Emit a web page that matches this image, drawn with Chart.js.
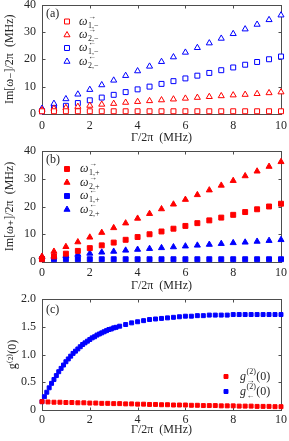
<!DOCTYPE html>
<html>
<head>
<meta charset="utf-8">
<script src="https://cdn.jsdelivr.net/npm/chart.js@4.4.1/dist/chart.umd.min.js"></script>
<style>
  body { margin: 0; background: #fff; width: 289px; height: 441px; overflow: hidden; position: relative; }
  canvas { position: absolute; left: 0; }
</style>
</head>
<body>
<canvas id="chartA" width="289" height="145" style="top:0px"></canvas>
<canvas id="chartB" width="289" height="147" style="top:146px"></canvas>
<canvas id="chartC" width="289" height="145" style="top:292px"></canvas>
<script>
// panels (a) and (b): Gamma/2pi grid
const gammaAB = [0, 0.5, 1, 1.5, 2, 2.5, 3, 3.5, 4, 4.5, 5, 5.5, 6, 6.5, 7, 7.5, 8, 8.5, 9, 9.5, 10];

// panel (a) : Im[w-]/2pi
const w1MinusFwd = [1, 1, 1, 1, 1, 1, 1, 1, 1, 1, 1, 1, 1, 1, 1, 1, 1, 1, 1, 1, 1];
const w2MinusFwd = [1.5, 2.0, 2.3, 2.7, 3.1, 3.5, 3.8, 4.2, 4.5, 4.8, 5.1, 5.4, 5.7, 6.0, 6.3, 6.6, 6.9, 7.1, 7.4, 7.7, 8.0];
const w1MinusBwd = [1, 2, 3, 4, 5, 6, 7, 8, 9, 10, 11, 12, 13, 14, 15, 16, 17, 18, 19, 20, 21];
const w2MinusBwd = [2.0, 3.8, 5.5, 7.2, 8.9, 10.6, 12.3, 14.0, 15.7, 17.4, 19.1, 20.8, 22.5, 24.2, 25.9, 27.6, 29.3, 31.0, 32.7, 34.4, 36.1];

// panel (b) : Im[w+]/2pi
const w1PlusFwd = [1, 2, 3, 4, 5, 6, 7, 8, 9, 10, 11, 12, 13, 14, 15, 16, 17, 18, 19, 20, 21];
const w2PlusFwd = [2.0, 3.8, 5.5, 7.2, 8.9, 10.6, 12.3, 14.0, 15.7, 17.4, 19.1, 20.8, 22.5, 24.2, 25.9, 27.6, 29.3, 31.0, 32.7, 34.4, 36.1];
const w1PlusBwd = [1.1, 1, 1, 1, 1, 1, 1, 1, 1, 1, 1, 1, 1, 1, 1, 1, 1, 1, 1, 1, 1];
const w2PlusBwd = [1.8, 2.0, 2.3, 2.7, 3.1, 3.5, 3.8, 4.2, 4.5, 4.8, 5.1, 5.4, 5.7, 6.0, 6.3, 6.6, 6.9, 7.1, 7.4, 7.7, 8.0];

// panel (c) : g2(0)
const gammaRed = [0, 0.25, 0.5, 0.75, 1, 1.25, 1.5, 1.75, 2, 2.25, 2.5, 2.75, 3, 3.25, 3.5, 3.75, 4, 4.25, 4.5, 4.75, 5,
  5.25, 5.5, 5.75, 6, 6.25, 6.5, 6.75, 7, 7.25, 7.5, 7.75, 8, 8.25, 8.5, 8.75, 9, 9.25, 9.5, 9.75, 10];
const g2Fwd = [0.15, 0.145, 0.14, 0.14, 0.135, 0.135, 0.13, 0.13, 0.125, 0.125, 0.12, 0.12, 0.115, 0.115, 0.11, 0.11, 0.105,
  0.105, 0.10, 0.10, 0.095, 0.095, 0.09, 0.09, 0.09, 0.085, 0.085, 0.08, 0.08, 0.08, 0.075, 0.075, 0.075, 0.07, 0.07,
  0.07, 0.065, 0.065, 0.065, 0.06, 0.06];
const gammaBlue = [0, 0.1, 0.2, 0.3, 0.4, 0.5, 0.6, 0.7, 0.8, 0.9, 1.0, 1.1, 1.2, 1.3, 1.4, 1.5, 1.6, 1.7, 1.8, 1.9, 2.0,
  2.1, 2.2, 2.3, 2.4, 2.5, 2.6, 2.7, 2.8, 2.9, 3.0, 3.1,
  3.25, 3.5, 3.75, 4, 4.25, 4.5, 4.75, 5, 5.25, 5.5, 5.75, 6, 6.25, 6.5, 6.75, 7, 7.25, 7.5, 7.75, 8, 8.25, 8.5, 8.75,
  9, 9.25, 9.5, 9.75, 10];
const g2Bwd = [0.15, 0.24, 0.32, 0.40, 0.48, 0.55, 0.62, 0.69, 0.75, 0.81, 0.87, 0.92, 0.97, 1.02, 1.06, 1.10, 1.14, 1.18,
  1.21, 1.24, 1.27, 1.30, 1.32, 1.35, 1.37, 1.39, 1.41, 1.43, 1.45, 1.46, 1.48, 1.49,
  1.51, 1.54, 1.57, 1.59, 1.61, 1.63, 1.64, 1.65, 1.66, 1.67, 1.68, 1.69, 1.69, 1.70, 1.70, 1.71, 1.71, 1.71, 1.71, 1.72,
  1.72, 1.72, 1.72, 1.72, 1.72, 1.72, 1.72, 1.72];

const RED = '#ff0000';
const BLUE = '#0000ff';
const TXT = '#262626';
const FONT = '"Liberation Serif", "DejaVu Serif", serif';

function pts(xs, ys) {
  return xs.map((x, i) => ({ x: x, y: ys[i] }));
}

function series(xs, ys, color, style, hollow, r) {
  return {
    data: pts(xs, ys),
    pointStyle: style,
    pointRadius: r,
    pointHoverRadius: r,
    borderWidth: 1,
    borderColor: color,
    backgroundColor: hollow ? '#ffffff' : color,
    showLine: false,
    clip: false
  };
}

// text with a superscript and subscript stacked after the base letter
function drawRich(ctx, x, y, base, sup, sub, tail) {
  ctx.fillStyle = TXT;
  ctx.textBaseline = 'middle';
  ctx.textAlign = 'left';
  ctx.font = 'italic 12px ' + FONT;
  ctx.fillText(base, x, y);
  x += ctx.measureText(base).width + 0.5;
  ctx.font = '8px ' + FONT;
  ctx.fillText(sup, x, y - 5);
  ctx.fillText(sub, x, y + 4);
  x += Math.max(ctx.measureText(sup).width, ctx.measureText(sub).width);
  if (tail) {
    ctx.font = '12px ' + FONT;
    ctx.fillText(tail, x + 0.5, y);
  }
}

// box around plot area with inward ticks
const boxTicks = {
  id: 'boxTicks',
  beforeDatasetsDraw(chart) {
    const { ctx, chartArea: a, scales } = chart;
    const l = Math.round(a.left) + 0.5, r = Math.round(a.right) + 0.5;
    const t = Math.round(a.top) + 0.5, b = Math.round(a.bottom) + 0.5;
    ctx.save();
    ctx.strokeStyle = '#4d4d4d';
    ctx.lineWidth = 1;
    ctx.strokeRect(l, t, r - l, b - t);
    ctx.beginPath();
    scales.x.ticks.forEach(tk => {
      const px = Math.round(scales.x.getPixelForValue(tk.value)) + 0.5;
      ctx.moveTo(px, b); ctx.lineTo(px, b - 3);
      ctx.moveTo(px, t); ctx.lineTo(px, t + 3);
    });
    scales.y.ticks.forEach(tk => {
      const py = Math.round(scales.y.getPixelForValue(tk.value)) + 0.5;
      ctx.moveTo(l, py); ctx.lineTo(l + 3, py);
      ctx.moveTo(r, py); ctx.lineTo(r - 3, py);
    });
    ctx.stroke();
    ctx.restore();
  }
};

const richLegend = {
  id: 'richLegend',
  afterDraw(chart, args, opts) {
    const ctx = chart.ctx;
    ctx.save();
    ctx.fillStyle = TXT;
    ctx.textBaseline = 'middle';
    ctx.textAlign = 'left';
    ctx.font = '12px ' + FONT;
    ctx.fillText(opts.tag, opts.tagX, opts.tagY);
    opts.items.forEach(it => {
      const ds = chart.data.datasets[it.ds];
      ctx.fillStyle = ds.backgroundColor;
      ctx.strokeStyle = ds.borderColor;
      ctx.lineWidth = ds.borderWidth;
      Chart.helpers.drawPoint(ctx, {
        pointStyle: ds.pointStyle, radius: ds.pointRadius, rotation: 0, borderWidth: ds.borderWidth
      }, it.mx, it.y);
      drawRich(ctx, it.tx, it.y, it.base, it.sup, it.sub, it.tail);
    });
    ctx.restore();
  }
};

function makeOptions(cfg) {
  return {
    responsive: false,
    animation: false,
    events: [],
    layout: { padding: { top: cfg.padTop, right: 8, left: 0, bottom: 0 } },
    plugins: {
      legend: { display: false },
      tooltip: { enabled: false },
      richLegend: cfg.legend
    },
    scales: {
      x: {
        type: 'linear', min: 0, max: 10,
        ticks: { stepSize: 2, color: TXT, font: { family: FONT, size: 12 }, padding: cfg.xTickPad, maxRotation: 0 },
        grid: { display: false, drawTicks: false },
        border: { display: false },
        title: { display: true, text: 'Γ/2π  (MHz)', color: TXT, font: { family: FONT, size: 12 }, padding: { top: 0, bottom: 0 } },
        afterFit(s) { s.height = cfg.xHeight; s.paddingLeft = 0; s.paddingRight = 0; }
      },
      y: {
        type: 'linear', min: cfg.yMin, max: cfg.yMax,
        ticks: { stepSize: cfg.yStep, color: TXT, font: { family: FONT, size: 12 }, padding: 6 },
        grid: { display: false, drawTicks: false },
        border: { display: false },
        title: { display: true, text: cfg.yTitle, color: TXT, font: { family: FONT, size: 12 }, padding: { top: cfg.yTitlePad, bottom: 0 } },
        afterFit(s) { s.width = 42; s.paddingTop = 0; s.paddingBottom = 0; }
      }
    }
  };
}

new Chart(document.getElementById('chartA'), {
  type: 'scatter',
  data: {
    datasets: [
      series(gammaAB, w1MinusFwd, RED, 'rect', true, 3.5),
      series(gammaAB, w2MinusFwd, RED, 'triangle', true, 3.5),
      series(gammaAB, w1MinusBwd, BLUE, 'rect', true, 3.5),
      series(gammaAB, w2MinusBwd, BLUE, 'triangle', true, 3.5)
    ]
  },
  options: makeOptions({
    padTop: 4, xHeight: 31, xTickPad: 5, yMin: 0, yMax: 40, yStep: 10,
    yTitle: 'Im[ω₋]/2π  (MHz)', yTitlePad: 3,
    legend: {
      tag: '(a)', tagX: 46, tagY: 14,
      items: [
        { ds: 0, mx: 67, tx: 79, y: 21.5, base: 'ω', sup: '→', sub: '1,−' },
        { ds: 1, mx: 67, tx: 79, y: 35, base: 'ω', sup: '→', sub: '2,−' },
        { ds: 2, mx: 67, tx: 79, y: 48, base: 'ω', sup: '←', sub: '1,−' },
        { ds: 3, mx: 67, tx: 79, y: 61.5, base: 'ω', sup: '←', sub: '2,−' }
      ]
    }
  }),
  plugins: [boxTicks, richLegend]
});

new Chart(document.getElementById('chartB'), {
  type: 'scatter',
  data: {
    datasets: [
      series(gammaAB, w1PlusFwd, RED, 'rect', false, 3.5),
      series(gammaAB, w2PlusFwd, RED, 'triangle', false, 3.5),
      series(gammaAB, w1PlusBwd, BLUE, 'rect', false, 3.5),
      series(gammaAB, w2PlusBwd, BLUE, 'triangle', false, 3.5)
    ]
  },
  options: makeOptions({
    padTop: 5, xHeight: 31, xTickPad: 4, yMin: 0, yMax: 40, yStep: 10,
    yTitle: 'Im[ω₊]/2π  (MHz)', yTitlePad: 3,
    legend: {
      tag: '(b)', tagX: 46, tagY: 14,
      items: [
        { ds: 0, mx: 67, tx: 80, y: 23, base: 'ω', sup: '→', sub: '1,+' },
        { ds: 1, mx: 67, tx: 80, y: 36.5, base: 'ω', sup: '→', sub: '2,+' },
        { ds: 2, mx: 67, tx: 80, y: 50, base: 'ω', sup: '←', sub: '1,+' },
        { ds: 3, mx: 67, tx: 80, y: 63.5, base: 'ω', sup: '←', sub: '2,+' }
      ]
    }
  }),
  plugins: [boxTicks, richLegend]
});

new Chart(document.getElementById('chartC'), {
  type: 'scatter',
  data: {
    datasets: [
      series(gammaRed, g2Fwd, RED, 'rect', false, 2.8),
      series(gammaBlue, g2Bwd, BLUE, 'rect', false, 2.8)
    ]
  },
  options: makeOptions({
    padTop: 7, xHeight: 27, xTickPad: 3, yMin: 0, yMax: 2, yStep: 0.5,
    yTitle: 'g⁽²⁾(0)', yTitlePad: 6,
    legend: {
      tag: '(c)', tagX: 46, tagY: 18,
      items: [
        { ds: 0, mx: 226, tx: 240, y: 84.5, base: 'g', sup: '(2)', sub: '→', tail: '(0)' },
        { ds: 1, mx: 226, tx: 240, y: 99.5, base: 'g', sup: '(2)', sub: '←', tail: '(0)' }
      ]
    }
  }),
  plugins: [boxTicks, richLegend]
});
</script>
</body>
</html>
